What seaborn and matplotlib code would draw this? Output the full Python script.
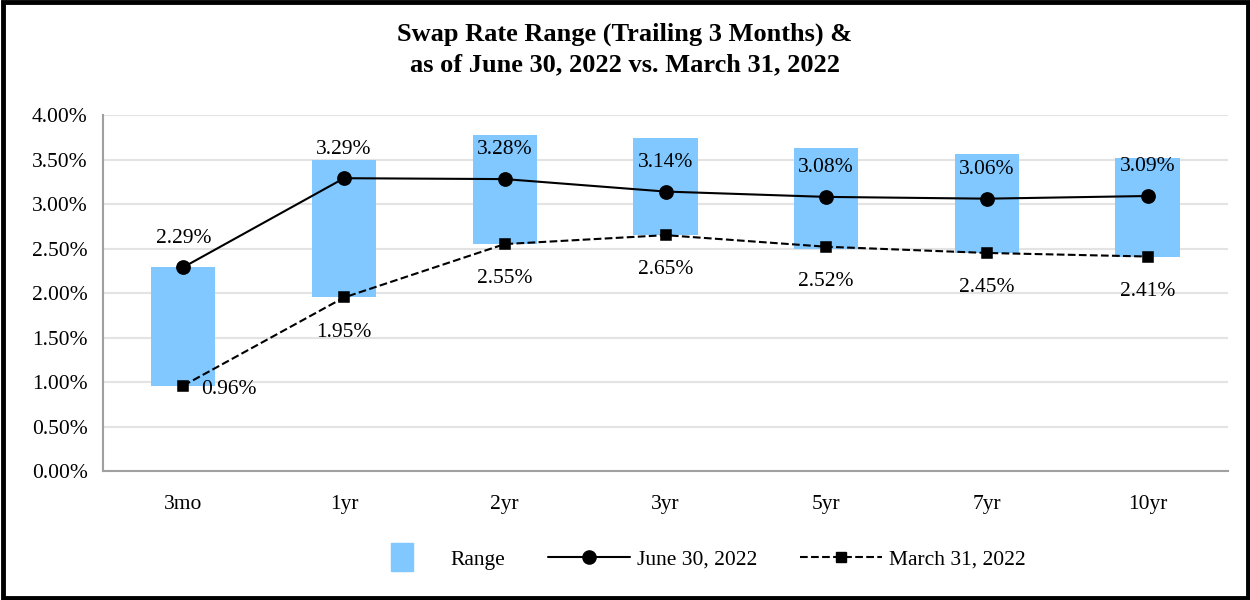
import matplotlib
matplotlib.use("Agg")
import matplotlib.pyplot as plt
import seaborn as sns
import numpy as np
from matplotlib.patches import Rectangle
from matplotlib.lines import Line2D
from matplotlib.ticker import FuncFormatter

# chart data
tenors = ["3mo", "1yr", "2yr", "3yr", "5yr", "7yr", "10yr"]
range_low = [0.96, 1.95, 2.55, 2.65, 2.50, 2.45, 2.40]
range_high = [2.29, 3.50, 3.78, 3.74, 3.63, 3.56, 3.52]
june_2022 = [2.29, 3.29, 3.28, 3.14, 3.08, 3.06, 3.09]
march_2022 = [0.96, 1.95, 2.55, 2.65, 2.52, 2.45, 2.41]

sns.set_theme(style="white")
plt.rcParams["font.family"] = ["Liberation Serif", "DejaVu Serif"]
plt.rcParams["text.color"] = "black"
plt.rcParams["xtick.labelcolor"] = "black"
plt.rcParams["ytick.labelcolor"] = "black"

fig = plt.figure(figsize=(12.5, 6), dpi=100)
ax = fig.add_axes([0.0824, 0.215, 0.9, 0.5933])

# range bars: draw highs, then shift each bar's base up to the low
sns.barplot(x=tenors, y=range_high, color="#80C8FF", saturation=1, width=0.4, ax=ax, zorder=2)
for bar, lo, hi in zip(ax.patches, range_low, range_high):
    bar.set_y(lo)
    bar.set_height(hi - lo)
    bar.set_edgecolor("none")

sns.pointplot(x=tenors, y=june_2022, color="black", marker="o", markersize=9.5,
              linewidth=1.5, ax=ax, zorder=4)
sns.pointplot(x=tenors, y=march_2022, color="black", marker="s", markersize=6.5,
              linewidth=1.5, linestyle="--", ax=ax, zorder=4)

# value labels
for i, v in enumerate(june_2022):
    ax.annotate(f"{v:.2f}%", (i, v), xytext=(0, 21), textcoords="offset points",
                ha="center", va="center", fontsize=15.5, zorder=5)
for i, v in enumerate(march_2022):
    if i == 0:
        ax.annotate(f"{v:.2f}%", (i, v), xytext=(33, -3), textcoords="offset points",
                    ha="center", va="center", fontsize=15.5, zorder=5)
    else:
        ax.annotate(f"{v:.2f}%", (i, v), xytext=(0, -25), textcoords="offset points",
                    ha="center", va="center", fontsize=15.5, zorder=5)

ax.set_xlim(-0.5, 6.5)
ax.set_ylim(0, 4)
ax.set_yticks(np.arange(0, 4.01, 0.5))
ax.yaxis.set_major_formatter(FuncFormatter(lambda y, _: f"{y:.2f}%"))
ax.yaxis.grid(True, color="#E3E3E3", linewidth=1.5, zorder=0)
ax.set_axisbelow(True)
for side in ["top", "right"]:
    ax.spines[side].set_visible(False)
for side in ["left", "bottom"]:
    ax.spines[side].set_color("#A0A0A0")
    ax.spines[side].set_linewidth(1.5)
ax.tick_params(axis="both", which="both", direction="out", length=8, width=1.5,
               color="#A0A0A0", labelsize=15.5, labelcolor="black")
ax.tick_params(axis="y", pad=3)
ax.tick_params(axis="x", pad=9)
ax.set_xlabel("")
ax.set_ylabel("")

fig.suptitle("Swap Rate Range (Trailing 3 Months) &\nas of June 30, 2022 vs. March 31, 2022",
             x=0.5, y=0.963, fontsize=19, fontweight="bold", linespacing=1.45)

# tall rectangle marker for the range swatch
rect_marker = [(-0.4, -0.5), (0.4, -0.5), (0.4, 0.5), (-0.4, 0.5), (-0.4, -0.5)]
handles = [
    Line2D([], [], color="#80C8FF", linestyle="none", marker=rect_marker, markersize=20),
    Line2D([], [], color="black", linewidth=1.5, marker="o", markersize=9.5),
    Line2D([], [], color="black", linewidth=1.5, linestyle="--", marker="s", markersize=6.5),
]
fig.legend(handles, ["Range", "June 30, 2022", "March 31, 2022"], loc="center",
           bbox_to_anchor=(0.555, 0.067), ncol=3, frameon=False, fontsize=15.5,
           handlelength=3.8, handletextpad=0.33, columnspacing=2.0)

fig.add_artist(Rectangle((0.002, 0.003), 0.996, 0.994, transform=fig.transFigure,
                         fill=False, edgecolor="black", linewidth=3.5))

fig.savefig("out.png", dpi=100)
